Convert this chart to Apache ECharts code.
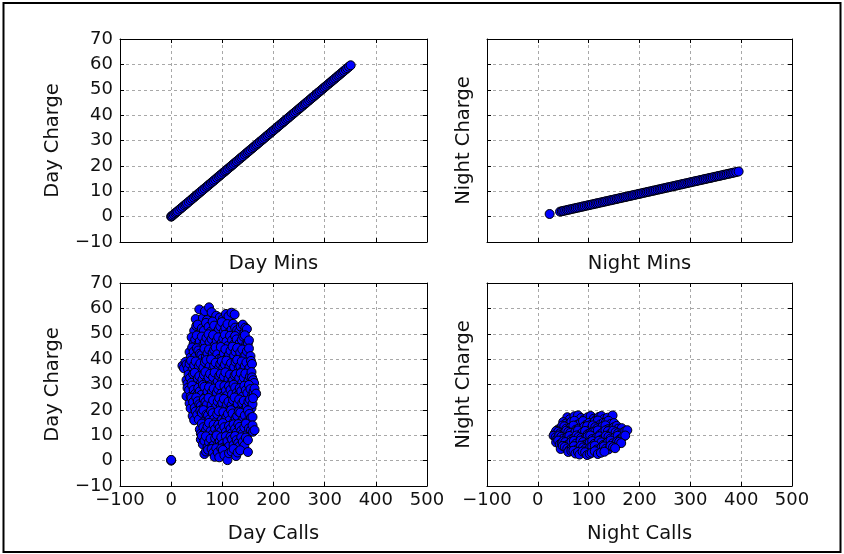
<!DOCTYPE html>
<html>
<head>
<meta charset="utf-8">
<title>Day / Night charges</title>
<script src="https://cdn.jsdelivr.net/npm/echarts@6/dist/echarts.min.js"></script>
<style>
  html, body { margin: 0; padding: 0; background: #fff; }
  #chart { width: 844px; height: 554px; }
</style>
</head>
<body>
<div id="chart"></div>
<script>
// Shared axis ticks
const xTicks = [-100, 0, 100, 200, 300, 400, 500];
const yTicks = [-10, 0, 10, 20, 30, 40, 50, 60, 70];

// Day minutes vs day charge: [mins, charge]
const dayMinsCharge = [
  [0, 0], [0.8, 0.14], [2.6, 0.44], [5.1, 0.87], [7.9, 1.34], [10.2, 1.73], [12.5, 2.13], [16.1, 2.74], [19.5, 3.32],
  [22.6, 3.84], [25.9, 4.40], [28.4, 4.83], [30.9, 5.25], [34.2, 5.81], [37.8, 6.43], [41.1, 6.99], [44.2, 7.51],
  [47.3, 8.04], [49.9, 8.48], [52.8, 8.98], [55.6, 9.45], [58.7, 9.98], [61.9, 10.52], [65.2, 11.08], [68.7, 11.68],
  [71.4, 12.14], [74.3, 12.63], [77.6, 13.19], [80.5, 13.69], [83.2, 14.14], [86.3, 14.67], [89.7, 15.25], [92.8, 15.78],
  [95.5, 16.24], [98.4, 16.73], [101.8, 17.31], [104.9, 17.83], [107.4, 18.26], [110.3, 18.75], [113.6, 19.31],
  [116.7, 19.84], [119.2, 20.26], [122.1, 20.76], [125.4, 21.32], [128.3, 21.81], [131.5, 22.36], [134.6, 22.88],
  [137.3, 23.34], [140.2, 23.83], [143.6, 24.41], [146.7, 24.94], [149.5, 25.42], [152.4, 25.91], [155.3, 26.40],
  [158.6, 26.96], [161.4, 27.44], [164.5, 27.97], [167.2, 28.42], [170.2, 28.93], [173.5, 29.50], [176.6, 30.02],
  [179.3, 30.48], [182.3, 30.99], [185.6, 31.55], [188.4, 32.03], [191.5, 32.56], [194.7, 33.10], [197.4, 33.56],
  [200.3, 34.05], [203.7, 34.63], [206.6, 35.12], [209.3, 35.58], [212.4, 36.11], [215.8, 36.69], [218.7, 37.18],
  [221.4, 37.64], [224.5, 38.17], [227.3, 38.64], [230.2, 39.13], [233.5, 39.70], [236.6, 40.22], [239.4, 40.70],
  [242.3, 41.19], [245.7, 41.77], [248.9, 42.31], [251.6, 42.77], [254.4, 43.25], [257.5, 43.78], [260.6, 44.30],
  [263.2, 44.74], [266.3, 45.27], [269.6, 45.83], [272.8, 46.38], [275.5, 46.84], [278.4, 47.33], [281.3, 47.82],
  [284.6, 48.38], [287.4, 48.86], [290.3, 49.35], [293.6, 49.91], [296.8, 50.46], [299.5, 50.92], [302.4, 51.41],
  [305.5, 51.94], [308.7, 52.48], [311.6, 52.97], [314.6, 53.48], [317.3, 53.94], [320.3, 54.45], [323.4, 54.98],
  [326.5, 55.51], [329.2, 55.96], [332.2, 56.47], [335.1, 56.97], [337.8, 57.43], [341.2, 58.00], [344.1, 58.50],
  [347.5, 59.08], [350.8, 59.64]
];

// Night minutes vs night charge: [mins, charge]
const nightMinsCharge = [
  [23.2, 1.04], [43.7, 1.97], [47.2, 2.12], [50.1, 2.25], [53.8, 2.42], [57.5, 2.59], [60.6, 2.73], [64.2, 2.89],
  [67.9, 3.06], [71.6, 3.22], [74.8, 3.37], [78.3, 3.52], [82.1, 3.69], [85.9, 3.87], [89.0, 4.01], [92.4, 4.16],
  [96.2, 4.33], [99.7, 4.49], [102.8, 4.63], [106.2, 4.78], [110.1, 4.95], [113.8, 5.12], [117.0, 5.27], [120.5, 5.42],
  [124.3, 5.59], [127.9, 5.76], [131.1, 5.90], [134.4, 6.05], [138.2, 6.22], [141.8, 6.38], [145.0, 6.53], [148.3, 6.67],
  [152.0, 6.84], [155.6, 7.00], [158.8, 7.15], [162.2, 7.30], [166.1, 7.47], [169.7, 7.64], [172.9, 7.78], [176.3, 7.93],
  [180.0, 8.10], [183.5, 8.26], [186.7, 8.40], [190.1, 8.55], [193.9, 8.73], [197.6, 8.89], [200.8, 9.04], [204.3, 9.19],
  [208.0, 9.36], [211.7, 9.53], [214.9, 9.67], [218.2, 9.82], [221.9, 9.99], [225.5, 10.15], [228.7, 10.29],
  [232.1, 10.44], [235.9, 10.62], [239.6, 10.78], [242.8, 10.93], [246.2, 11.08], [249.8, 11.24], [253.5, 11.41],
  [256.7, 11.55], [260.1, 11.70], [263.9, 11.88], [267.7, 12.05], [270.9, 12.19], [274.3, 12.34], [277.9, 12.51],
  [281.6, 12.67], [284.8, 12.82], [288.2, 12.97], [292.0, 13.14], [295.7, 13.31], [298.9, 13.45], [302.3, 13.60],
  [305.9, 13.77], [309.5, 13.93], [312.7, 14.07], [316.1, 14.22], [319.9, 14.40], [323.6, 14.56], [326.8, 14.71],
  [330.2, 14.86], [333.8, 15.02], [337.5, 15.19], [340.7, 15.33], [344.1, 15.48], [347.9, 15.66], [351.6, 15.82],
  [354.8, 15.97], [358.2, 16.12], [361.8, 16.28], [365.5, 16.45], [368.7, 16.59], [372.1, 16.74], [375.6, 16.90],
  [379.4, 17.07], [382.7, 17.22], [386.2, 17.38], [390.3, 17.56], [395.0, 17.78]
];

// Day calls vs day charge: [calls, charge]
const dayCallsCharge = [
  [0, 0], [0, 0.3],
  [48, 55.8], [55, 59.6], [62, 56.2], [66, 58.9], [70, 55.4], [74, 60.4], [79, 58.5], [88, 57.1], [95, 56.4], [101, 55.8],
  [107, 57.8], [112, 56.9], [118, 58.3], [124, 57.6],
  [45, 51.2], [49, 53.1], [52, 53.6], [57, 50.3], [60, 52.1], [64, 51.2], [68, 54.3], [73, 52.7], [77, 50.8], [81, 54.8],
  [84, 53.2], [88, 50.2], [93, 51.7], [96, 52.9], [99, 54.6], [103, 50.9], [106, 52.3], [110, 53.8], [114, 50.6],
  [118, 51.6], [121, 53.9], [125, 52.4], [129, 51.4], [133, 50.9], [136, 52.8], [140, 53.6], [143, 50.4], [145, 52.4], [148, 51.9],
  [40, 48.6], [44, 46.2], [47, 47.7], [50, 49.3], [53, 45.9], [56, 47.1], [60, 48.9], [63, 45.8], [66, 46.8], [69, 48.4],
  [73, 49.8], [75, 46.6], [79, 47.9], [82, 49.5], [86, 45.6], [89, 47.3], [92, 48.6], [95, 45.4], [99, 46.4], [102, 48.1],
  [105, 49.6], [108, 46.9], [111, 45.2], [115, 49.2], [119, 47.4], [122, 45.7], [125, 49.1], [128, 47.8], [131, 45.5],
  [134, 46.3], [138, 47.6], [141, 48.9], [144, 49.4], [147, 45.9], [150, 46.3], [152, 47.4],
  [36, 42.8], [38, 40.7], [41, 44.6], [44, 42.9], [47, 40.9], [50, 44.3], [53, 43.4], [56, 42.1], [59, 41.6], [61, 40.2],
  [65, 44.1], [68, 40.9], [71, 42.3], [74, 43.8], [78, 40.4], [81, 42.5], [84, 43.7], [87, 44.6], [90, 41.9], [94, 40.1],
  [97, 44.8], [100, 40.8], [103, 42.2], [106, 43.9], [110, 40.6], [113, 41.7], [116, 43.3], [120, 44.9], [123, 41.4],
  [126, 42.9], [129, 44.4], [132, 40.5], [135, 42.6], [139, 43.8], [142, 40.8], [145, 41.6], [148, 43.1], [152, 44.2], [155, 41.2],
  [22, 37.4], [25, 36.4], [28, 38.9], [30, 37.9], [33, 36.2], [36, 38.2], [39, 39.4], [42, 35.8], [45, 37.6], [48, 39.1],
  [51, 35.4], [54, 37.2], [57, 38.3], [60, 35.3], [63, 36.7], [66, 38.8], [69, 39.6], [72, 36.1], [75, 37.1], [78, 39.9],
  [81, 35.7], [84, 37.4], [87, 38.6], [90, 35.2], [93, 36.3], [96, 38.1], [99, 39.2], [102, 36.6], [105, 37.8], [108, 39.4],
  [111, 35.6], [114, 37.1], [117, 38.4], [120, 35.2], [123, 36.9], [126, 38.9], [129, 39.7], [132, 36.4], [135, 37.3],
  [138, 39.1], [141, 35.9], [144, 37.3], [147, 38.7], [150, 35.4], [153, 36.5], [156, 39.3], [158, 38.1],
  [30, 31.8], [32, 30.3], [34, 33.9], [37, 32.6], [40, 30.7], [43, 34.1], [46, 34.6], [49, 30.2], [52, 32.4], [55, 33.3],
  [58, 30.5], [61, 31.9], [64, 33.8], [67, 34.9], [70, 31.3], [73, 32.8], [76, 34.2], [79, 30.1], [82, 32.9], [85, 34.7],
  [88, 30.4], [91, 31.2], [94, 33.4], [97, 34.2], [100, 31.6], [103, 33.1], [106, 34.8], [109, 30.6], [112, 32.2],
  [115, 33.9], [118, 30.9], [121, 31.8], [124, 33.6], [127, 34.1], [130, 31.1], [133, 32.6], [136, 34.5], [139, 30.8],
  [142, 32.7], [145, 34.3], [148, 30.3], [151, 31.4], [154, 33.1], [157, 34.9], [158, 32.8], [160, 31.7], [162, 30.6],
  [30, 25.4], [32, 28.6], [35, 27.8], [38, 25.2], [41, 29.6], [44, 27.9], [47, 26.3], [50, 25.7], [53, 28.7], [56, 27.3],
  [59, 25.9], [62, 29.8], [65, 29.1], [68, 25.4], [71, 27.2], [74, 28.9], [77, 25.6], [80, 27.1], [83, 28.4], [86, 25.2],
  [89, 26.8], [92, 28.1], [95, 29.7], [98, 26.4], [101, 25.3], [104, 29.4], [107, 27.6], [110, 25.8], [113, 29.3],
  [116, 27.9], [119, 26.1], [122, 29.9], [125, 28.8], [128, 26.7], [131, 25.8], [134, 28.6], [137, 27.4], [140, 25.3],
  [143, 29.5], [146, 27.8], [149, 26.6], [152, 29.8], [155, 28.2], [158, 25.6], [161, 27.1], [163, 28.4], [166, 26.4],
  [36, 22.6], [38, 20.6], [40, 24.7], [43, 23.1], [46, 20.8], [49, 24.9], [52, 23.4], [55, 22.2], [58, 21.6], [61, 20.3],
  [64, 24.3], [67, 23.1], [70, 22.1], [73, 24.7], [76, 20.4], [79, 21.9], [82, 23.8], [85, 20.2], [88, 21.3], [91, 23.3],
  [94, 24.6], [97, 21.4], [100, 22.7], [103, 24.3], [106, 20.6], [109, 22.1], [112, 23.2], [115, 20.4], [118, 21.8],
  [121, 23.9], [124, 24.9], [127, 21.1], [130, 22.4], [133, 24.1], [136, 20.3], [139, 22.6], [142, 23.6], [145, 20.5],
  [148, 21.5], [151, 23.3], [154, 24.1], [157, 20.7], [159, 22.3], [160, 24.6],
  [42, 17.6], [45, 15.9], [48, 19.4], [51, 18.1], [54, 16.2], [57, 19.7], [60, 18.8], [63, 19.9], [66, 15.7], [69, 18.2],
  [72, 17.9], [75, 16.3], [78, 19.6], [81, 18.7], [84, 16.4], [87, 15.2], [90, 18.3], [93, 19.5], [96, 15.4], [99, 16.1],
  [102, 19.1], [105, 15.7], [108, 17.2], [111, 18.4], [114, 15.9], [117, 19.9], [120, 18.6], [123, 15.3], [126, 16.7],
  [129, 17.6], [132, 19.3], [135, 18.9], [138, 15.6], [141, 16.4], [144, 17.8], [147, 15.1], [150, 19.8], [153, 18.4],
  [156, 16.9], [159, 17.2],
  [56, 12.3], [58, 10.6], [60, 14.6], [63, 13.2], [65, 10.8], [68, 11.9], [71, 13.4], [74, 14.9], [77, 11.6], [80, 10.2],
  [83, 14.2], [86, 12.4], [89, 10.5], [92, 14.1], [95, 12.9], [98, 11.6], [101, 14.8], [104, 13.2], [107, 11.3], [110, 10.1],
  [113, 13.7], [116, 12.5], [119, 10.9], [122, 14.3], [125, 12.6], [128, 11.1], [131, 14.4], [134, 13.3], [137, 11.8],
  [140, 10.7], [143, 13.1], [146, 14.6], [149, 10.4], [152, 12.7], [156, 12.1], [159, 13.9], [160, 11.4], [163, 12.0],
  [58, 8.3], [60, 9.8], [62, 6.4], [65, 7.8], [68, 9.6], [71, 5.3], [74, 7.2], [77, 8.6], [80, 5.6], [83, 6.1], [86, 8.8],
  [89, 9.9], [92, 6.9], [95, 7.6], [96, 5.8], [98, 9.2], [101, 6.6], [104, 5.3], [107, 9.6], [110, 7.7], [113, 5.6],
  [116, 9.4], [119, 8.4], [122, 6.2], [125, 9.7], [128, 8.1], [131, 6.9], [134, 5.8], [137, 9.2], [140, 7.4], [143, 5.9],
  [146, 9.1], [150, 8.1],
  [65, 2.6], [68, 3.6], [72, 4.3], [79, 4.6], [82, 3.1], [85, 1.5], [88, 4.9], [91, 3.2], [94, 1.3], [98, 4.8], [101, 4.2],
  [104, 2.1], [110, 0.2], [113, 2.9], [118, 3.6], [122, 4.6], [127, 1.8], [130, 3.2], [135, 4.1], [150, 3.4]
];

// Night calls vs night charge: [calls, charge]
const nightCallsCharge = [
  [58, 17.1], [63, 16.3], [72, 17.5], [79, 17.8], [85, 16.8], [92, 16.4], [98, 17.1], [104, 17.6], [110, 16.5],
  [115, 16.2], [120, 17.2], [125, 17.6], [130, 16.4], [137, 16.9], [147, 17.8],
  [50, 15.2], [55, 14.6], [61, 14.3], [66, 15.3], [72, 15.7], [78, 14.2], [84, 14.8], [89, 15.6], [95, 14.1], [101, 14.9],
  [106, 14.4], [112, 15.4], [118, 15.8], [123, 14.3], [129, 14.9], [134, 15.1], [139, 15.7], [144, 14.5], [150, 14.8],
  [40, 12.3], [45, 12.8], [48, 13.8], [52, 13.5], [56, 12.6], [60, 12.2], [65, 13.1], [70, 13.8], [75, 12.2], [80, 12.6],
  [86, 12.1], [91, 13.3], [97, 13.6], [102, 12.1], [108, 13.9], [113, 13.2], [117, 12.7], [122, 12.1], [127, 13.4],
  [133, 13.9], [138, 12.4], [144, 12.2], [150, 13.2], [155, 13.7], [158, 12.6], [165, 12.8],
  [33, 10.6], [36, 11.7], [40, 11.4], [44, 10.8], [48, 10.3], [52, 10.9], [56, 11.8], [60, 11.3], [64, 10.9], [68, 10.1],
  [74, 11.3], [79, 11.9], [83, 10.2], [88, 11.1], [93, 11.7], [98, 10.4], [103, 10.8], [108, 11.2], [113, 11.5],
  [118, 11.9], [123, 10.4], [128, 11.1], [133, 11.9], [138, 11.6], [143, 10.7], [148, 11.8], [153, 11.2], [158, 10.8],
  [163, 10.5], [168, 11.1], [172, 11.6], [176, 12.0],
  [31, 9.8], [35, 9.2], [38, 8.6], [42, 9.9], [46, 9.4], [50, 8.7], [54, 8.2], [58, 9.3], [62, 9.7], [66, 8.4], [71, 8.8],
  [76, 9.9], [80, 9.3], [85, 8.9], [89, 8.1], [94, 9.0], [98, 9.6], [103, 9.9], [107, 8.5], [112, 8.2], [116, 9.1],
  [121, 9.6], [125, 8.3], [130, 8.9], [134, 9.8], [139, 9.4], [143, 8.7], [148, 8.2], [152, 9.2], [157, 9.8], [161, 8.4],
  [165, 8.8], [168, 9.5], [172, 9.9],
  [36, 7.2], [40, 7.9], [43, 6.4], [47, 6.9], [50, 7.6], [54, 7.3], [58, 6.1], [62, 6.7], [66, 7.4], [71, 7.8], [75, 6.7],
  [80, 6.2], [84, 7.9], [89, 7.3], [93, 6.3], [98, 6.7], [102, 7.1], [107, 7.7], [111, 6.6], [116, 6.1], [120, 7.8],
  [125, 7.2], [129, 6.2], [134, 6.6], [138, 7.3], [143, 7.9], [147, 6.8], [152, 6.3], [156, 7.5], [160, 7.4], [164, 6.9],
  [45, 4.6], [49, 5.8], [53, 5.4], [58, 4.8], [62, 4.2], [67, 5.1], [71, 5.7], [76, 4.3], [80, 4.8], [85, 5.9], [89, 5.2],
  [94, 4.7], [98, 4.1], [103, 5.2], [107, 5.6], [112, 5.9], [116, 4.4], [121, 4.1], [125, 5.1], [130, 5.6], [134, 4.7],
  [139, 4.4], [143, 5.8], [148, 5.3], [152, 4.9],
  [60, 3.4], [66, 3.8], [70, 3.9], [74, 2.8], [79, 3.4], [82, 2.4], [88, 3.6], [93, 3.3], [97, 2.2], [102, 2.7], [106, 3.1],
  [112, 3.7], [118, 2.6], [124, 3.1], [131, 3.5]
];

const panels = [
  { xName: 'Day Mins', yName: 'Day Charge', data: dayMinsCharge },
  { xName: 'Night Mins', yName: 'Night Charge', data: nightMinsCharge },
  { xName: 'Day Calls', yName: 'Day Charge', data: dayCallsCharge },
  { xName: 'Night Calls', yName: 'Night Charge', data: nightCallsCharge }
];

const FONT = 'DejaVu Sans';
const TICK_SIZE = 18;
const NAME_SIZE = 19.5;
const minus = v => String(v).replace('-', '\u2212');

const gridBoxes = [
  { left: 120, top: 39, width: 307, height: 203 },
  { left: 487, top: 39, width: 305, height: 203 },
  { left: 120, top: 283, width: 307, height: 203 },
  { left: 487, top: 283, width: 305, height: 203 }
];

const tickStyle = { show: true, inside: true, length: 4, lineStyle: { color: '#000', width: 1 } };
const lineStyle = { show: true, onZero: false, lineStyle: { color: '#000', width: 1 } };
const splitStyle = { show: true, lineStyle: { color: '#a8a8a8', width: 1, type: [3, 3] } };

const xAxes = [];
const yAxes = [];
const series = [];

panels.forEach((p, i) => {
  const isTop = i < 2;
  const isRight = i % 2 === 1;
  xAxes.push({
    gridIndex: i, type: 'value', position: 'bottom',
    min: xTicks[0], max: xTicks[xTicks.length - 1], interval: xTicks[1] - xTicks[0],
    name: p.xName, nameLocation: 'middle', nameGap: isTop ? 12 : 38,
    nameTextStyle: { fontFamily: FONT, fontSize: NAME_SIZE, color: '#111' },
    axisLine: lineStyle, axisTick: tickStyle, splitLine: splitStyle,
    axisLabel: { show: !isTop, margin: 5, fontFamily: FONT, fontSize: TICK_SIZE, color: '#111', formatter: minus }
  });
  yAxes.push({
    gridIndex: i, type: 'value', position: 'left',
    min: yTicks[0], max: yTicks[yTicks.length - 1], interval: yTicks[1] - yTicks[0],
    name: p.yName, nameLocation: 'middle', nameGap: isRight ? 13 : 57,
    nameTextStyle: { fontFamily: FONT, fontSize: NAME_SIZE, color: '#111' },
    axisLine: lineStyle, axisTick: tickStyle, splitLine: splitStyle,
    axisLabel: { show: !isRight, margin: 7, fontFamily: FONT, fontSize: TICK_SIZE, color: '#111', formatter: minus }
  });
  series.push({
    type: 'scatter', xAxisIndex: i, yAxisIndex: i, data: p.data,
    symbol: 'circle', symbolSize: 9,
    itemStyle: { color: '#0000ff', borderColor: '#000', borderWidth: 1, opacity: 1 },
    emphasis: { disabled: true }, silent: true
  });
});

// Mirrored ticks on the top and right edges of every panel
panels.forEach((p, i) => {
  xAxes.push({
    gridIndex: i, type: 'value', position: 'top',
    min: xTicks[0], max: xTicks[xTicks.length - 1], interval: xTicks[1] - xTicks[0],
    axisLine: lineStyle, axisTick: tickStyle, splitLine: { show: false }, axisLabel: { show: false }
  });
  yAxes.push({
    gridIndex: i, type: 'value', position: 'right',
    min: yTicks[0], max: yTicks[yTicks.length - 1], interval: yTicks[1] - yTicks[0],
    axisLine: lineStyle, axisTick: tickStyle, splitLine: { show: false }, axisLabel: { show: false }
  });
});

const chart = echarts.init(document.getElementById('chart'), null, { renderer: 'canvas' });
chart.setOption({
  animation: false,
  backgroundColor: '#fff',
  grid: gridBoxes.map(b => Object.assign({ containLabel: false, outerBoundsMode: 'none' }, b)),
  xAxis: xAxes,
  yAxis: yAxes,
  series: series,
  graphic: [{
    type: 'rect', silent: true, z: 100,
    shape: { x: 3.5, y: 3, width: 837, height: 549 },
    style: { fill: 'none', stroke: '#000', lineWidth: 2 }
  }]
});
</script>
</body>
</html>
